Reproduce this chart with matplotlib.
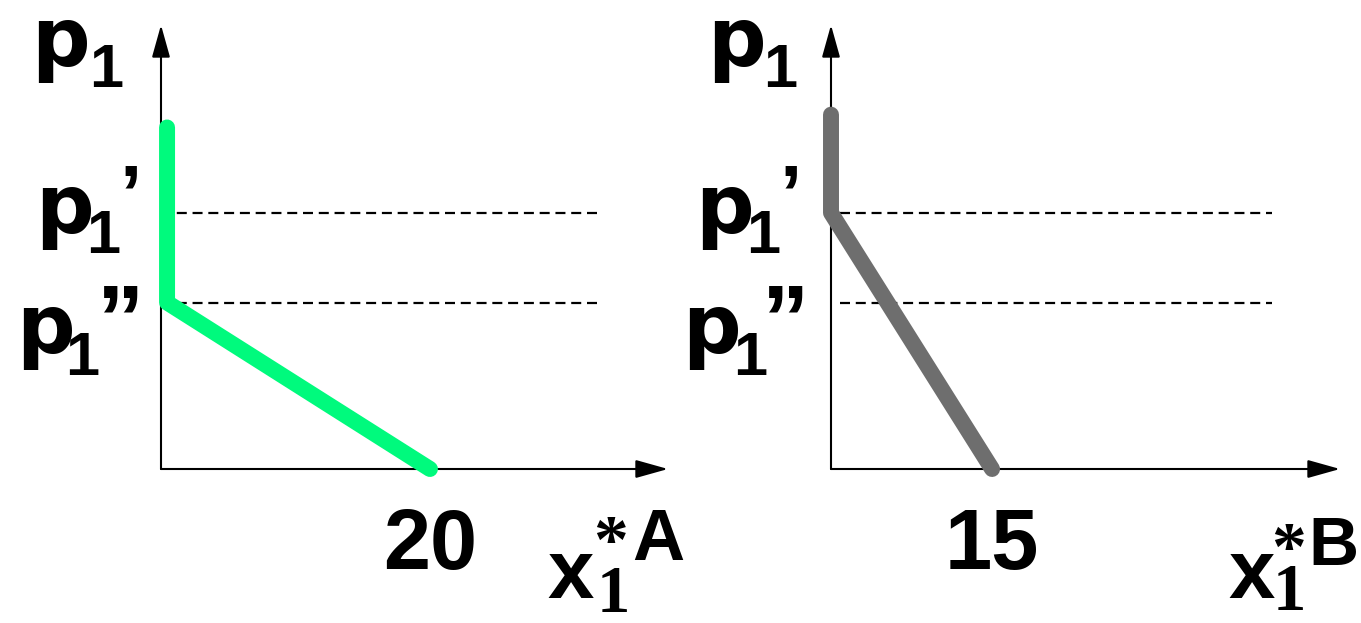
import matplotlib.pyplot as plt
from matplotlib import transforms

W, H = 1361, 623

# price levels, shared by both panels
P_PRIME = 6.0       # p1'
P_DPRIME = 3.9      # p1''
P_TOP = 10.4        # end of the price axis

# consumer A: flat-out vertical down to p1'', then falls to 20
QA = [0.45, 0.45, 20]
PA = [8.0, P_DPRIME, 0]
QA_TOP = 37.7
QA_TICK = "20"
QA_DASH = [0, 32.6]

# consumer B: vertical down to p1', then falls to 15
QB = [0, 0, 15]
PB = [8.3, P_PRIME, 0]
QB_TOP = 47.4
QB_TICK = "15"
QB_DASH = [0.8, 41.1]

GREEN = "#00fa7d"
GREY = "#6e6e6e"
SERIF = ["Liberation Serif", "DejaVu Serif"]

fig = plt.figure(figsize=(W / 100, H / 100), dpi=100)
fig.patch.set_facecolor("white")


def px_axes(left, bottom_y, width, height):
    # bottom_y counted from the top edge of the figure, in pixels
    return fig.add_axes([left / W, 1 - bottom_y / H, width / W, height / H])


def label(x, y, s, size, family="Liberation Sans", transform=None):
    if transform is None:
        transform = fig.transFigure
        x = x / W
    fig.text(x, 1 - y / H, s, fontsize=size, fontweight="bold", family=family,
             ha="center", va="baseline", transform=transform)


def draw_panel(ax, q, p, q_top, dash, color):
    ax.set_xlim(0, q_top)
    ax.set_ylim(0, P_TOP)
    ax.axis("off")
    arrow = dict(arrowstyle="-|>,head_length=1.0,head_width=0.28", lw=1.5,
                 color="black", mutation_scale=20, shrinkA=0, shrinkB=0)
    ax.annotate("", xy=(q_top, 0), xytext=(0, 0), arrowprops=arrow,
                annotation_clip=False)
    ax.annotate("", xy=(0, P_TOP), xytext=(0, 0), arrowprops=arrow,
                annotation_clip=False)
    for level in (P_PRIME, P_DPRIME):
        ax.plot(dash, [level, level], color="black", lw=1.6,
                linestyle=(0, (4.5, 2.6)), clip_on=False, zorder=2)
    ax.plot(q, p, color=color, lw=11.5, solid_capstyle="round",
            solid_joinstyle="round", clip_on=False, zorder=3)


axA = px_axes(161, 469, 507, 444)
axB = px_axes(831, 469, 509, 444)
draw_panel(axA, QA, PA, QA_TOP, QA_DASH, GREEN)
draw_panel(axB, QB, PB, QB_TOP, QB_DASH, GREY)

# price labels on both axes
for cx, sx in ((60, 106), (736, 780)):
    label(cx, 66, "p", 59, "DejaVu Sans")
    label(sx, 87, "1", 44)
for cx, sx, qx in ((64, 103, 131), (724, 763, 791)):
    label(cx, 233, "p", 59, "DejaVu Sans")
    label(sx, 253, "1", 44)
    label(qx, 222, "\u2019", 58)
for cx, sx, qx in ((45, 82, 120), (711, 750, 785)):
    label(cx, 353, "p", 59, "DejaVu Sans")
    label(sx, 375, "1", 44)
    label(qx, 350, "\u201d", 68)

# quantity tick values and axis names
for ax, tick in ((axA, QA_TICK), (axB, QB_TICK)):
    tr = transforms.blended_transform_factory(ax.transData, fig.transFigure)
    label(float(tick), 569, tick, 61, transform=tr)

label(571, 598, "x", 60)
label(613, 612, "1", 48, SERIF)
label(610, 563, "*", 50, SERIF)
label(658, 560, "A", 52)

label(1252, 598, "x", 60)
label(1289, 610, "1", 48, SERIF)
label(1288, 570, "*", 50, SERIF)
label(1333, 565, "B", 50)

fig.savefig("out.png", dpi=100, facecolor="white")
